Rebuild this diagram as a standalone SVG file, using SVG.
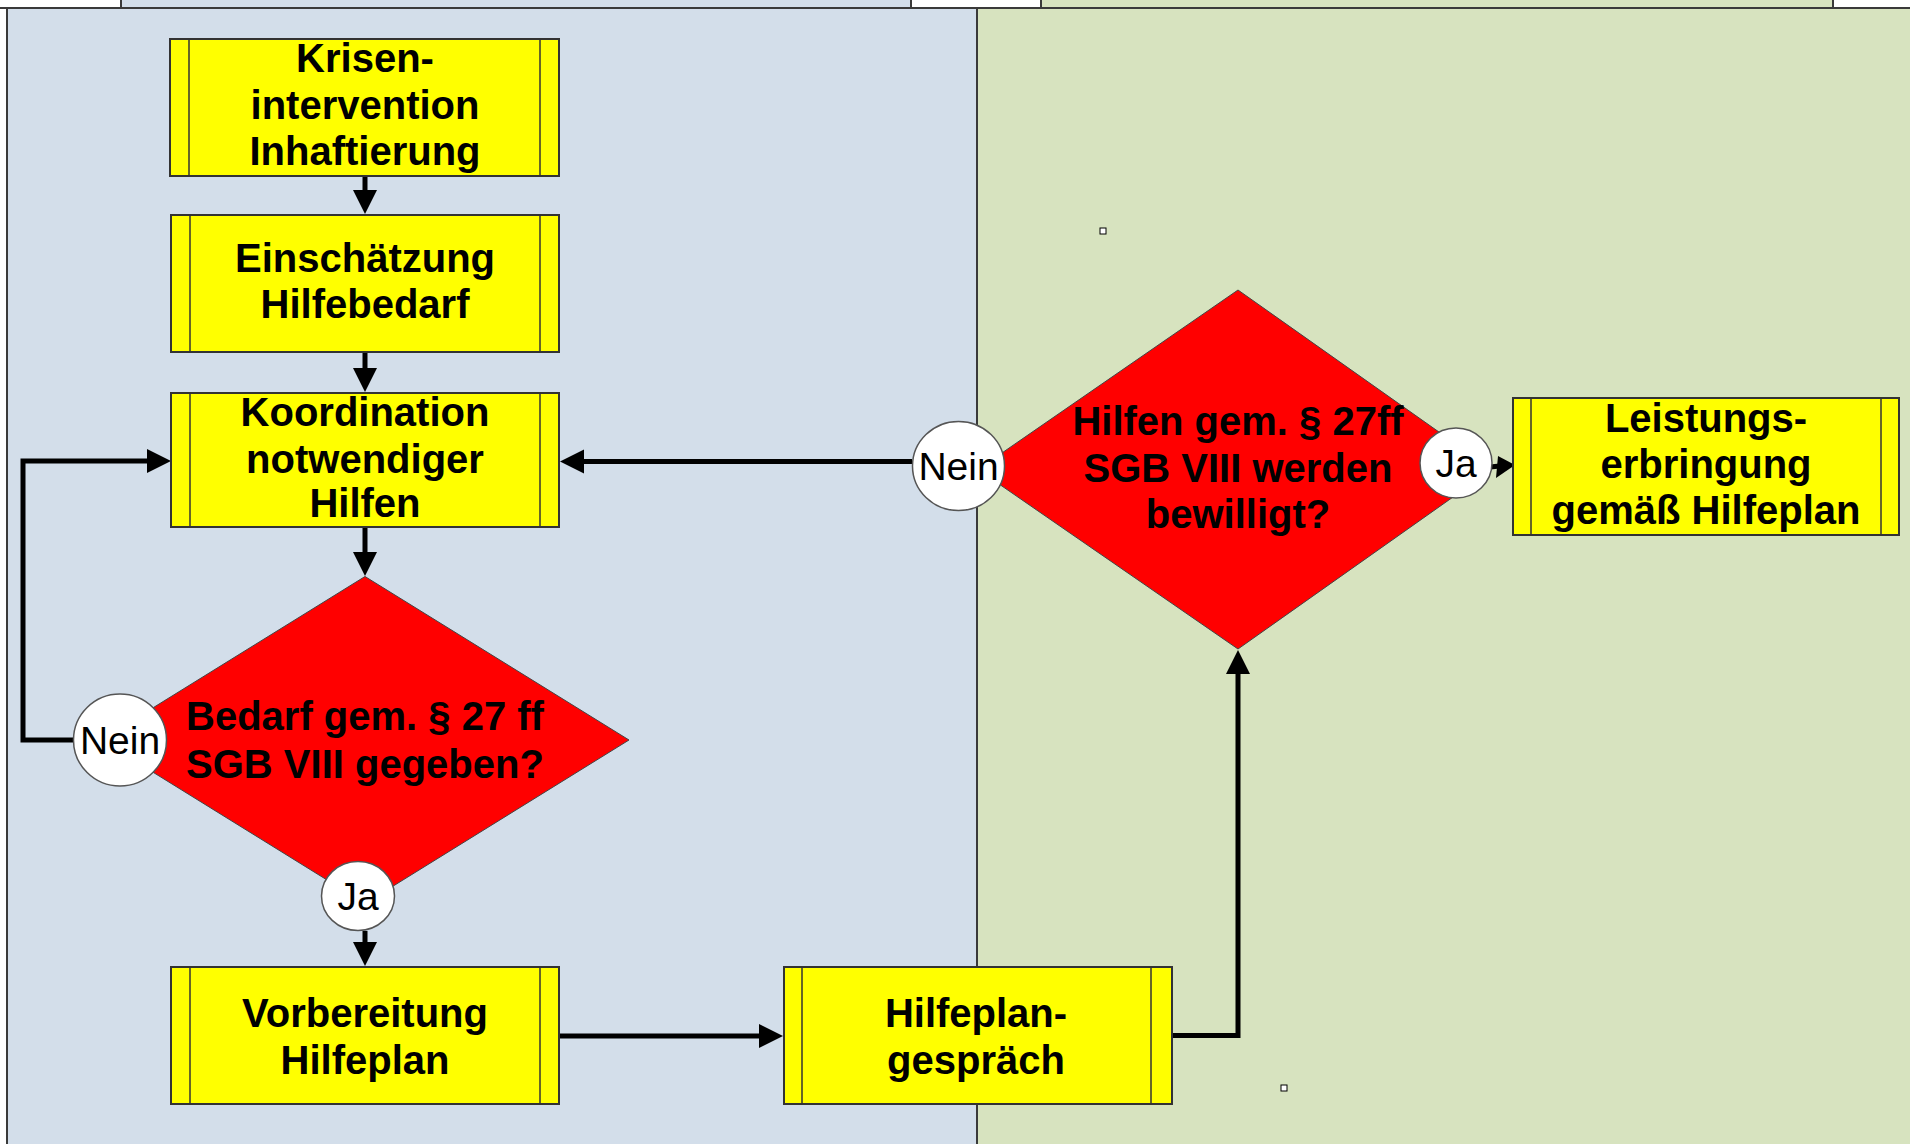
<svg xmlns="http://www.w3.org/2000/svg" width="1910" height="1144" viewBox="0 0 1910 1144">
<defs>
<style>
.lane{stroke:#3a3a3a;stroke-width:2}
.blue{fill:#D3DEEA}
.green{fill:#D7E3BF}
.box{fill:#FFFF00;stroke:#333;stroke-width:2}
.bar{stroke:#333;stroke-width:1.5}
.dia{fill:#FF0000;stroke:#444;stroke-width:1}
.circ{fill:#FFFFFF;stroke:#555;stroke-width:1.5}
.t{font-family:"Liberation Sans",Arial,sans-serif;font-weight:bold;font-size:40px;fill:#000;text-anchor:middle}
.c{font-family:"Liberation Sans",Arial,sans-serif;font-size:39px;fill:#000;text-anchor:middle}
.con{fill:none;stroke:#000;stroke-width:5}
.mark{fill:#000;stroke:none}
</style>
<marker id="ah" markerUnits="userSpaceOnUse" markerWidth="26" markerHeight="26" refX="2" refY="12" orient="auto">
<path d="M0,0 L24,12 L0,24 z" class="mark"/>
</marker>
</defs>
<rect x="0" y="0" width="1910" height="1144" fill="#FFFFFF"/>
<g id="lanes">
<rect x="121" y="-2" width="790" height="10" class="blue lane"/>
<rect x="1041" y="-2" width="792" height="10" class="green lane"/>
<line x1="0" y1="8" x2="1910" y2="8" class="lane"/>
<rect x="7" y="8" width="970" height="1150" class="blue lane"/>
<rect x="977" y="8" width="940" height="1150" class="green lane"/>
<rect x="1100" y="228" width="6" height="6" fill="#fff" stroke="#000" stroke-width="1"/>
<rect x="1281" y="1085" width="6" height="6" fill="#fff" stroke="#000" stroke-width="1"/>
</g>
<g id="connectors">
<line x1="365" y1="176" x2="365" y2="192" class="con" marker-end="url(#ah)"/>
<line x1="365" y1="352" x2="365" y2="370" class="con" marker-end="url(#ah)"/>
<line x1="365" y1="527" x2="365" y2="554" class="con" marker-end="url(#ah)"/>
<line x1="365" y1="931" x2="365" y2="944" class="con" marker-end="url(#ah)"/>
<polyline points="74,740 23,740 23,461 149,461" class="con" marker-end="url(#ah)"/>
<line x1="912" y1="461.5" x2="582" y2="461.5" class="con" marker-end="url(#ah)"/>
<line x1="557" y1="1036" x2="761" y2="1036" class="con" marker-end="url(#ah)"/>
<polyline points="1172,1035.5 1238,1035.5 1238,672" class="con" marker-end="url(#ah)"/>
<line x1="1490" y1="467" x2="1500" y2="466" class="con"/>
<polygon points="1498,456 1515,465 1496,478" class="mark"/>
</g>
<g id="n1">
<rect x="170" y="39" width="389" height="137" class="box"/>
<line x1="189" y1="39" x2="189" y2="176" class="bar"/>
<line x1="540" y1="39" x2="540" y2="176" class="bar"/>
<text x="365" class="t"><tspan x="365" y="72">Krisen-</tspan><tspan x="365" y="119">intervention</tspan><tspan x="365" y="165">Inhaftierung</tspan></text>
</g>
<g id="n2">
<rect x="171" y="215" width="388" height="137" class="box"/>
<line x1="190" y1="215" x2="190" y2="352" class="bar"/>
<line x1="540" y1="215" x2="540" y2="352" class="bar"/>
<text class="t"><tspan x="365" y="272">Einschätzung</tspan><tspan x="365" y="318">Hilfebedarf</tspan></text>
</g>
<g id="n3">
<rect x="171" y="393" width="388" height="134" class="box"/>
<line x1="190" y1="393" x2="190" y2="527" class="bar"/>
<line x1="540" y1="393" x2="540" y2="527" class="bar"/>
<text class="t"><tspan x="365" y="426">Koordination</tspan><tspan x="365" y="473">notwendiger</tspan><tspan x="365" y="517">Hilfen</tspan></text>
</g>
<g id="d1">
<polygon points="365,576.5 629,740 365,903.5 101,740" class="dia"/>
<text class="t"><tspan x="365" y="730">Bedarf gem. § 27 ff</tspan><tspan x="365" y="778">SGB VIII gegeben?</tspan></text>
</g>
<g id="c_nein1">
<ellipse cx="120" cy="740" rx="46.5" ry="46" class="circ"/>
<text x="120" y="754" class="c">Nein</text>
</g>
<g id="c_ja1">
<ellipse cx="358" cy="896" rx="36.5" ry="34.5" class="circ"/>
<text x="358" y="910" class="c">Ja</text>
</g>
<g id="n4">
<rect x="171" y="967" width="388" height="137" class="box"/>
<line x1="190" y1="967" x2="190" y2="1104" class="bar"/>
<line x1="540" y1="967" x2="540" y2="1104" class="bar"/>
<text class="t"><tspan x="365" y="1027">Vorbereitung</tspan><tspan x="365" y="1074">Hilfeplan</tspan></text>
</g>
<g id="n5">
<rect x="784" y="967" width="388" height="137" class="box"/>
<line x1="802" y1="967" x2="802" y2="1104" class="bar"/>
<line x1="1151" y1="967" x2="1151" y2="1104" class="bar"/>
<text class="t"><tspan x="976" y="1027">Hilfeplan-</tspan><tspan x="976" y="1074">gespräch</tspan></text>
</g>
<g id="d2">
<polygon points="1238,290 1492,469.5 1238,649 978,469.5" class="dia"/>
<text class="t"><tspan x="1238" y="435">Hilfen gem. § 27ff</tspan><tspan x="1238" y="482">SGB VIII werden</tspan><tspan x="1238" y="528">bewilligt?</tspan></text>
</g>
<g id="c_nein2">
<ellipse cx="958.5" cy="466" rx="46" ry="44.5" class="circ"/>
<text x="958.5" y="480" class="c">Nein</text>
</g>
<g id="c_ja2">
<ellipse cx="1456" cy="463" rx="36" ry="35" class="circ"/>
<text x="1456" y="477" class="c">Ja</text>
</g>
<g id="n6">
<rect x="1513" y="398" width="386" height="137" class="box"/>
<line x1="1531" y1="398" x2="1531" y2="535" class="bar"/>
<line x1="1881" y1="398" x2="1881" y2="535" class="bar"/>
<text class="t"><tspan x="1706" y="432">Leistungs-</tspan><tspan x="1706" y="478">erbringung</tspan><tspan x="1706" y="524">gemäß Hilfeplan</tspan></text>
</g>
</svg>
